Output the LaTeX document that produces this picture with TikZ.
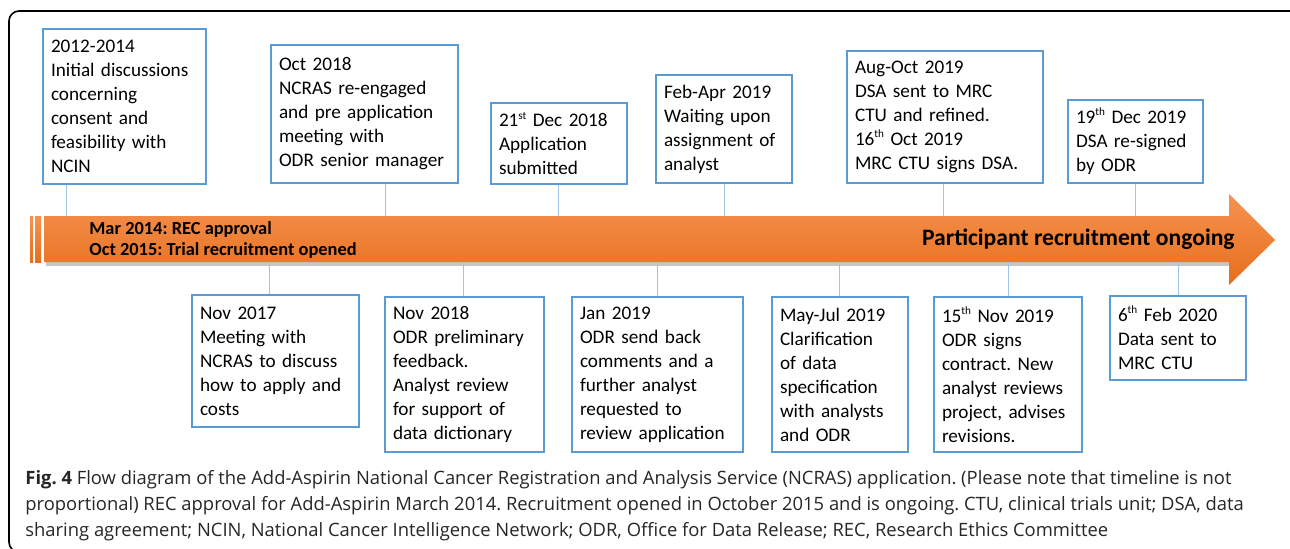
\documentclass[tikz,border=0pt]{standalone}
\usepackage{fontspec}
\setmainfont{Carlito}
\newfontfamily\captionfont{Open Sans}
\definecolor{boxblue}{RGB}{91,155,213}
\definecolor{linkblue}{RGB}{160,196,232}
\definecolor{arrowtop}{RGB}{246,146,80}
\definecolor{arrowbot}{RGB}{230,110,28}
\hyphenpenalty=10000
\exhyphenpenalty=10000
\frenchspacing
\newcommand\ordsup[1]{\raisebox{0.85ex}{\fontsize{5.6}{6}\selectfont #1}}
\tikzset{%
  EventStyle/.style 2 args={draw=boxblue,line width=1pt,fill=white,anchor=north west,
    align=left,inner xsep=4pt,inner ysep=2pt,text width=#1,minimum height=#2,
    font=\fontsize{9.6}{12}\selectfont},
  LinkStyle/.style={draw=linkblue,line width=0.5pt},
  BandStyle/.style={top color=arrowtop,bottom color=arrowbot}
}

\begin{document}
\begin{tikzpicture}[x=0.5pt,y=-0.5pt]
  \useasboundingbox (0,0) rectangle (1290,548);
  \draw[line width=0.8pt,rounded corners=5pt] (9,11) rectangle (1300,552);
  % timeline band
  \fill[gray!45] (46,219) -- (1231,219) -- (1231,266) -- (46,266) -- cycle;
  \shade[BandStyle] (44,216) -- (1229,216) -- (1229,194) -- (1275,240)
    -- (1229,285) -- (1229,262) -- (44,262) -- cycle;
  \shade[BandStyle] (30,216) rectangle (33,262);
  \shade[BandStyle] (35,216) rectangle (41,262);
  \node[anchor=base west,align=left,inner sep=0pt,
    font=\bfseries\fontsize{9.2}{10.5}\selectfont] (milestones) at (89,255)
    {Mar 2014: REC approval\\Oct 2015: Trial recruitment opened};
  \node[anchor=base east,inner sep=0pt,font=\bfseries\fontsize{11.8}{14}\selectfont]
    (ongoing) at (1235,245) {Participant recruitment ongoing};
  % events above
  \node[EventStyle={73.5pt}{77.5pt}] (t1) at (42,28)
    {2012-2014\\Initial discussions\\concerning\\consent and\\feasibility with\\NCIN};
  \node[EventStyle={85.5pt}{69pt}] (t2) at (270,44)
    {Oct 2018\\NCRAS re-engaged\\and pre application\\meeting with\\ODR senior manager};
  \node[EventStyle={60pt}{40.5pt}] (t3) at (490,102)
    {21\ordsup{st} Dec 2018\\Application\\submitted};
  \node[EventStyle={60pt}{54pt}] (t4) at (655,74)
    {Feb-Apr 2019\\Waiting upon\\assignment of\\analyst};
  \node[EventStyle={90pt}{66pt}] (t5) at (846,50)
    {Aug-Oct 2019\\DSA sent to MRC\\CTU and refined.\\16\ordsup{th} Oct 2019\\MRC CTU signs DSA.};
  \node[EventStyle={59.5pt}{41.5pt}] (t6) at (1067,99)
    {19\ordsup{th} Dec 2019\\DSA re-signed\\by ODR};
  % events below
  \node[EventStyle={75.5pt}{66pt}] (b1) at (191,294)
    {Nov 2017\\Meeting with\\NCRAS to discuss\\how to apply and\\costs};
  \node[EventStyle={71.5pt}{77.5pt}] (b2) at (384,296)
    {Nov 2018\\ODR preliminary\\feedback.\\Analyst review\\for support of\\data dictionary};
  \node[EventStyle={77.5pt}{77.5pt}] (b3) at (571,296)
    {Jan 2019\\ODR send back\\comments and a\\further analyst\\requested to\\review application};
  \node[EventStyle={60pt}{77.5pt}] (b4) at (771,296)
    {May-Jul 2019\\Clarification\\of data\\specification\\with analysts\\and ODR};
  \node[EventStyle={66pt}{77.5pt}] (b5) at (933,296)
    {15\ordsup{th} Nov 2019\\ODR signs\\contract. New\\analyst reviews\\project, advises\\revisions.};
  \node[EventStyle={60pt}{42pt}] (b6) at (1109,295)
    {6\ordsup{th} Feb 2020\\Data sent to\\MRC CTU};
  % links to the band
  \foreach \n/\x in {t1/66,t2/385,t3/558,t4/724,t5/943,t6/1135}{
    \coordinate (a\n) at (\x,216);
    \draw[LinkStyle] (a\n |- \n.south) -- (a\n);
  }
  \foreach \n/\x in {b1/269,b2/463,b3/657,b4/839,b5/1008,b6/1178}{
    \coordinate (a\n) at (\x,262);
    \draw[LinkStyle] (a\n) -- (a\n |- \n.north);
  }
  \node[anchor=north west,inner sep=0pt,align=left,text=black!85,
    font=\captionfont\fontsize{9.2}{13.1}\selectfont] (caption) at (25,470)
    {\textbf{Fig. 4} Flow diagram of the Add-Aspirin National Cancer Registration and Analysis Service (NCRAS) application. (Please note that timeline is not\\
     proportional) REC approval for Add-Aspirin March 2014. Recruitment opened in October 2015 and is ongoing. CTU, clinical trials unit; DSA, data\\
     sharing agreement; NCIN, National Cancer Intelligence Network; ODR, Office for Data Release; REC, Research Ethics Committee};
\end{tikzpicture}
\end{document}
